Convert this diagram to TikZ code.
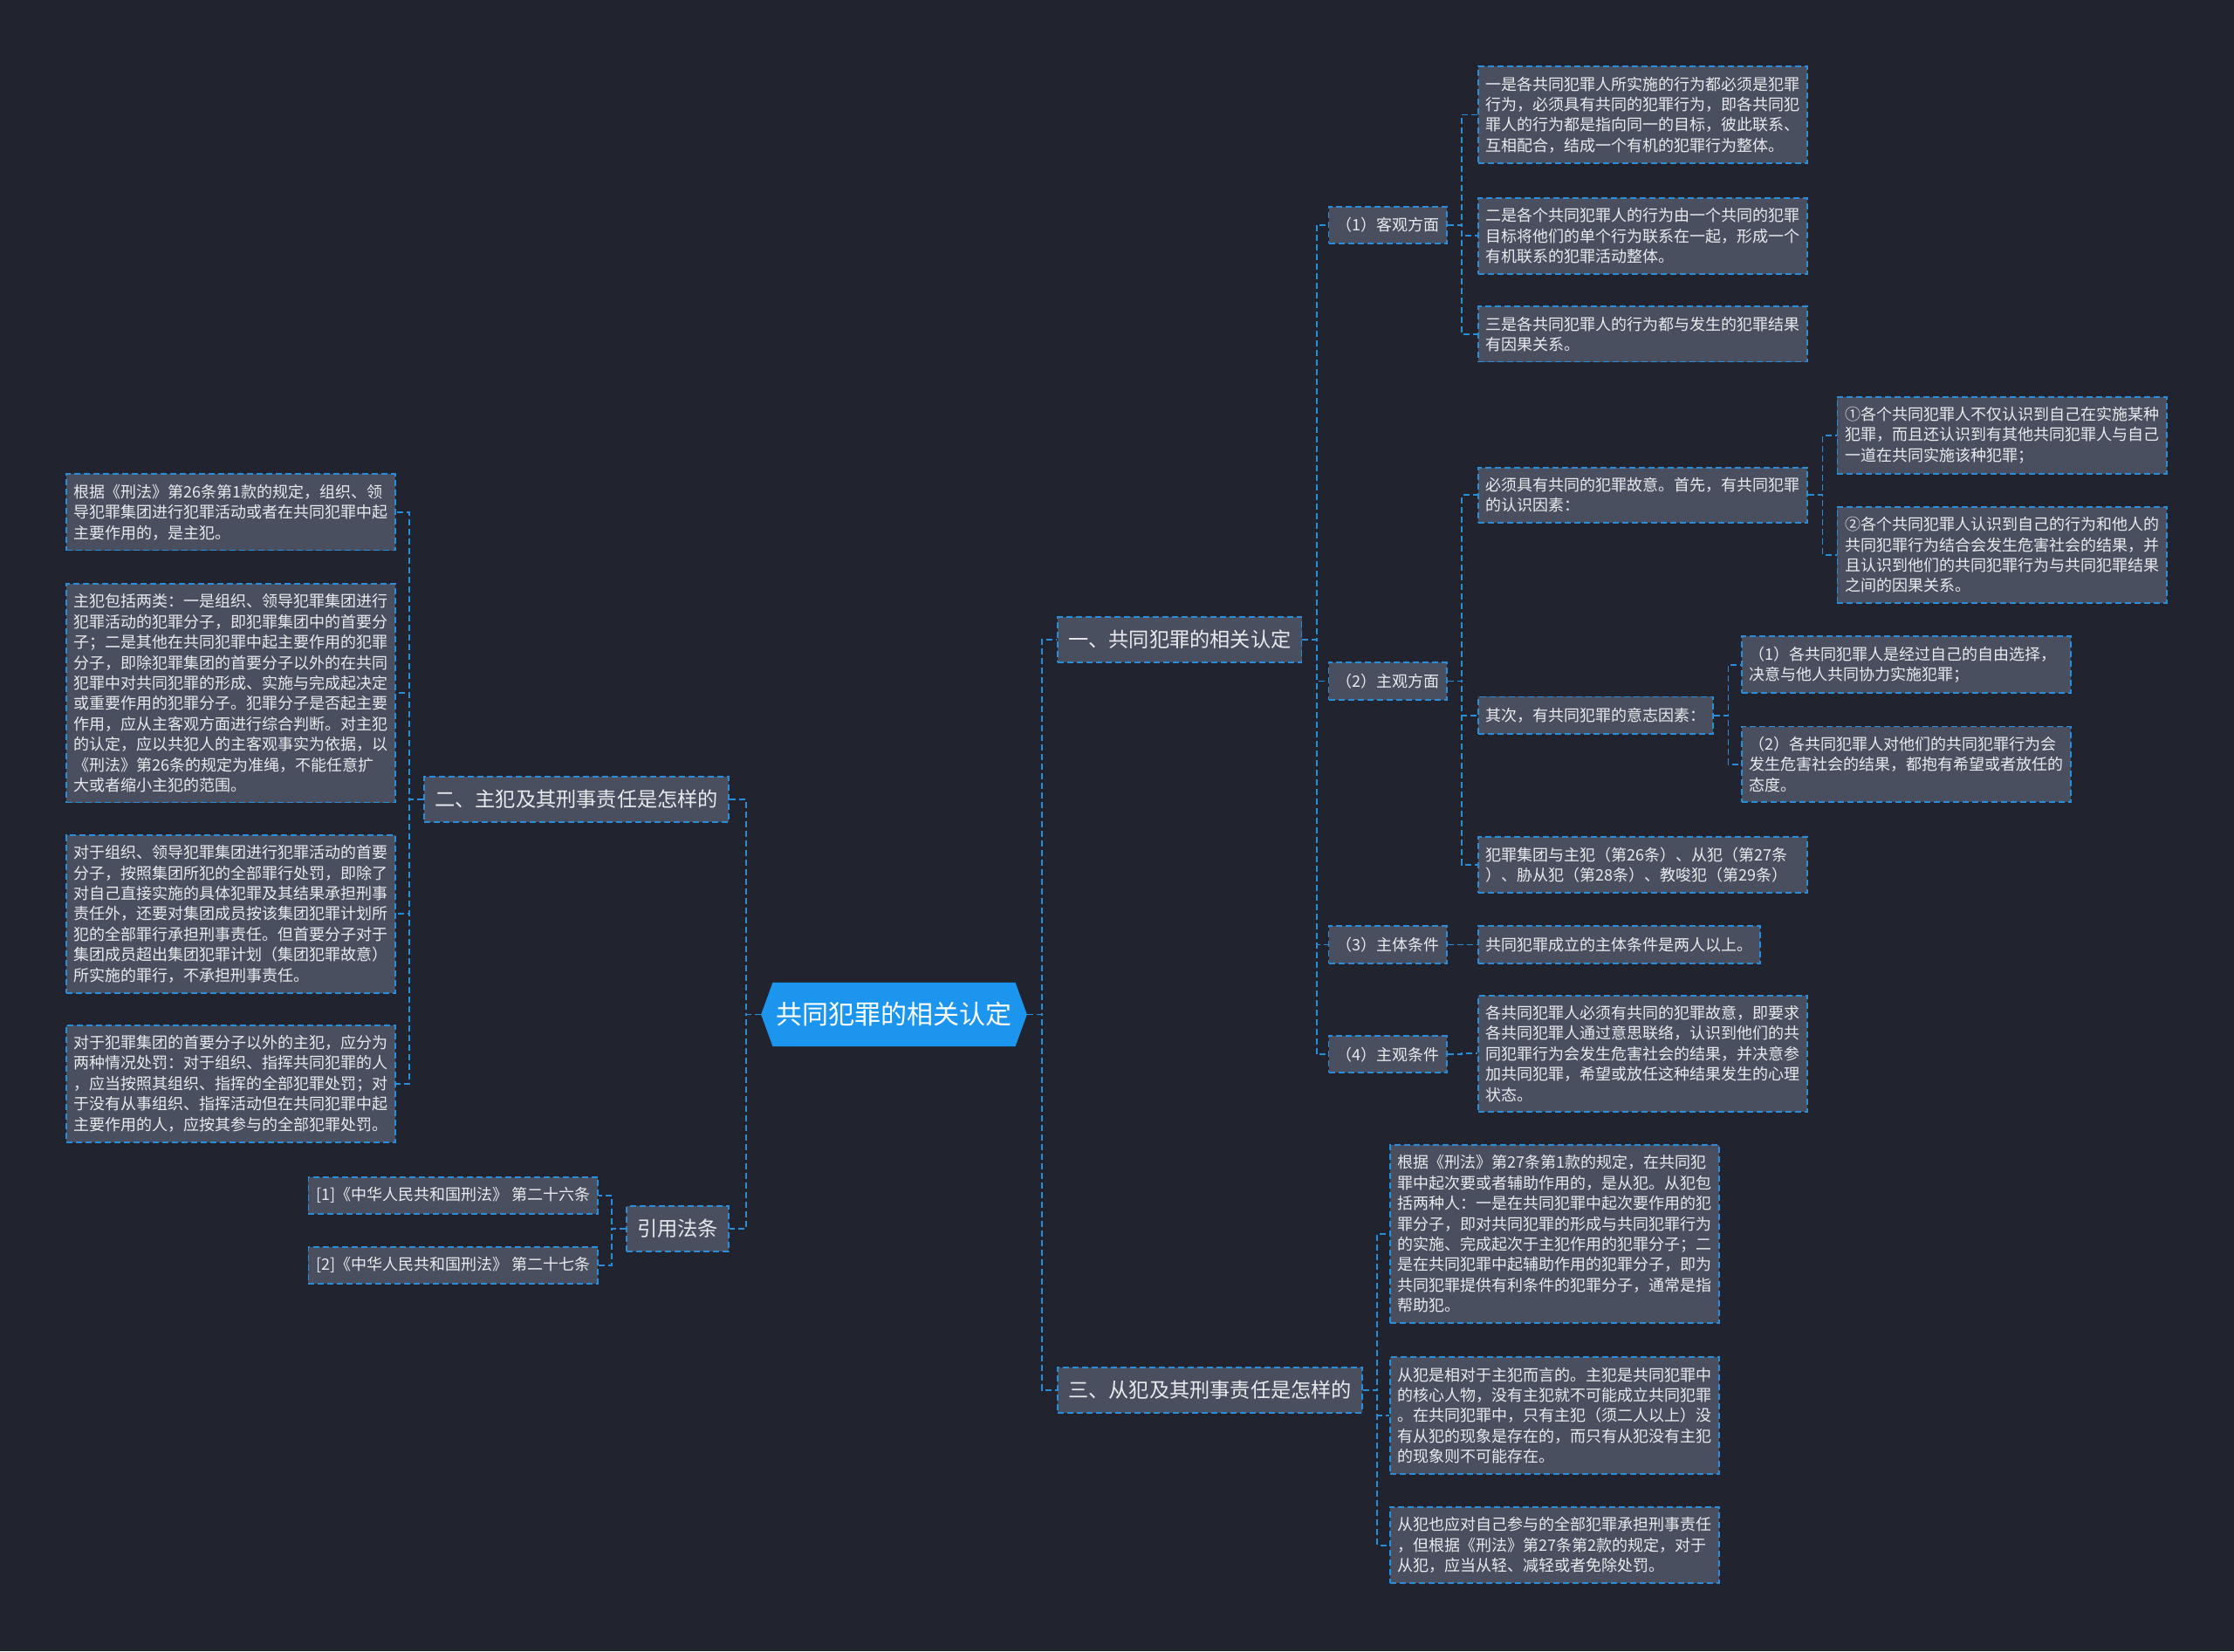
\documentclass[tikz,border=0pt]{standalone}
\usepackage{fontspec}
\usetikzlibrary{shapes.symbols}
\newfontfamily\cjk{Noto Sans CJK SC}
\definecolor{MapBg}{RGB}{33, 36, 47}
\definecolor{MapBox}{RGB}{73, 79, 94}
\definecolor{MapBlue}{RGB}{41, 141, 218}
\definecolor{MapRoot}{RGB}{27, 149, 238}
\definecolor{MapText}{RGB}{232, 234, 238}
\tikzset{
  box/.style={rectangle, draw=MapBlue, fill=MapBox, line width=0.9pt, dash pattern=on 3.5pt off 2pt,
    text=MapText, inner xsep=4.3pt, inner ysep=5.8pt, minimum height=21.2pt, anchor=west,
    font=\cjk\fontsize{9}{11.7}\selectfont},
  para/.style={box, text width=180pt, align=left},
  topic/.style={box, inner xsep=6pt, minimum height=26pt, font=\cjk\fontsize{11.6}{14}\selectfont},
  root/.style={signal, signal to=east and west, signal pointer angle=140, fill=MapRoot, text=white,
    minimum height=36.7pt, inner xsep=2pt, font=\cjk\fontsize{15}{18}\selectfont},
  link/.style={draw=MapBlue, line width=0.9pt, dash pattern=on 3.5pt off 2pt},
  rlink/.style={link, to path={-- ++(10,0) |- (\tikztotarget)}},
  llink/.style={link, to path={-- ++(-10,0) |- (\tikztotarget)}},
}
\begin{document}
\begin{tikzpicture}[x=0.8163pt, y=-0.8163pt]
  \fill[MapBg] (0,0) rectangle (1568,1159);
  \node[root] (root) at (627.5,712) {共同犯罪的相关认定};
  \node[topic] (one) at (742,449) {一、共同犯罪的相关认定};
  \node[topic] (three) at (742,975.5) {三、从犯及其刑事责任是怎样的};
  \node[topic, anchor=east] (two) at (512,561) {二、主犯及其刑事责任是怎样的};
  \node[topic, anchor=east] (cite) at (512,862.5) {引用法条};

  \node[box] (obj) at (932,158) {（1）客观方面};
  \node[box] (subj) at (932,478) {（2）主观方面};
  \node[box] (cond3) at (932,663) {（3）主体条件};
  \node[box] (cond4) at (932,740) {（4）主观条件};

  \node[para] (obj1) at (1037,80.5) {一是各共同犯罪人所实施的行为都必须是犯罪\\行为，必须具有共同的犯罪行为，即各共同犯\\罪人的行为都是指向同一的目标，彼此联系、\\互相配合，结成一个有机的犯罪行为整体。};
  \node[para] (obj2) at (1037,165.5) {二是各个共同犯罪人的行为由一个共同的犯罪\\目标将他们的单个行为联系在一起，形成一个\\有机联系的犯罪活动整体。};
  \node[para] (obj3) at (1037,234.5) {三是各共同犯罪人的行为都与发生的犯罪结果\\有因果关系。};

  \node[para] (subj1) at (1037,347.5) {必须具有共同的犯罪故意。首先，有共同犯罪\\的认识因素：};
  \node[para] (subj1a) at (1289,305.5) {①各个共同犯罪人不仅认识到自己在实施某种\\犯罪，而且还认识到有其他共同犯罪人与自己\\一道在共同实施该种犯罪；};
  \node[para] (subj1b) at (1289,389.5) {②各个共同犯罪人认识到自己的行为和他人的\\共同犯罪行为结合会发生危害社会的结果，并\\且认识到他们的共同犯罪行为与共同犯罪结果\\之间的因果关系。};
  \node[box] (subj2) at (1037,502) {其次，有共同犯罪的意志因素：};
  \node[para] (subj2a) at (1222,466.5) {（1）各共同犯罪人是经过自己的自由选择，\\决意与他人共同协力实施犯罪；};
  \node[para] (subj2b) at (1222,536.5) {（2）各共同犯罪人对他们的共同犯罪行为会\\发生危害社会的结果，都抱有希望或者放任的\\态度。};
  \node[para] (subj3) at (1037,607) {犯罪集团与主犯（第26条）、从犯（第27条\\）、胁从犯（第28条）、教唆犯（第29条）};

  \node[box] (cond3a) at (1037,663) {共同犯罪成立的主体条件是两人以上。};
  \node[para] (cond4a) at (1037,739.5) {各共同犯罪人必须有共同的犯罪故意，即要求\\各共同犯罪人通过意思联络，认识到他们的共\\同犯罪行为会发生危害社会的结果，并决意参\\加共同犯罪，希望或放任这种结果发生的心理\\状态。};

  \node[para] (acc1) at (975,866) {根据《刑法》第27条第1款的规定，在共同犯\\罪中起次要或者辅助作用的，是从犯。从犯包\\括两种人：一是在共同犯罪中起次要作用的犯\\罪分子，即对共同犯罪的形成与共同犯罪行为\\的实施、完成起次于主犯作用的犯罪分子；二\\是在共同犯罪中起辅助作用的犯罪分子，即为\\共同犯罪提供有利条件的犯罪分子，通常是指\\帮助犯。};
  \node[para] (acc2) at (975,993.5) {从犯是相对于主犯而言的。主犯是共同犯罪中\\的核心人物，没有主犯就不可能成立共同犯罪\\。在共同犯罪中，只有主犯（须二人以上）没\\有从犯的现象是存在的，而只有从犯没有主犯\\的现象则不可能存在。};
  \node[para] (acc3) at (975,1084.5) {从犯也应对自己参与的全部犯罪承担刑事责任\\，但根据《刑法》第27条第2款的规定，对于\\从犯，应当从轻、减轻或者免除处罚。};

  \node[para, anchor=east] (prin1) at (278,359.5) {根据《刑法》第26条第1款的规定，组织、领\\导犯罪集团进行犯罪活动或者在共同犯罪中起\\主要作用的，是主犯。};
  \node[para, anchor=east] (prin2) at (278,486.5) {主犯包括两类：一是组织、领导犯罪集团进行\\犯罪活动的犯罪分子，即犯罪集团中的首要分\\子；二是其他在共同犯罪中起主要作用的犯罪\\分子，即除犯罪集团的首要分子以外的在共同\\犯罪中对共同犯罪的形成、实施与完成起决定\\或重要作用的犯罪分子。犯罪分子是否起主要\\作用，应从主客观方面进行综合判断。对主犯\\的认定，应以共犯人的主客观事实为依据，以\\《刑法》第26条的规定为准绳，不能任意扩\\大或者缩小主犯的范围。};
  \node[para, anchor=east] (prin3) at (278,641.5) {对于组织、领导犯罪集团进行犯罪活动的首要\\分子，按照集团所犯的全部罪行处罚，即除了\\对自己直接实施的具体犯罪及其结果承担刑事\\责任外，还要对集团成员按该集团犯罪计划所\\犯的全部罪行承担刑事责任。但首要分子对于\\集团成员超出集团犯罪计划（集团犯罪故意）\\所实施的罪行，不承担刑事责任。};
  \node[para, anchor=east] (prin4) at (278,760.5) {对于犯罪集团的首要分子以外的主犯，应分为\\两种情况处罚：对于组织、指挥共同犯罪的人\\，应当按照其组织、指挥的全部犯罪处罚；对\\于没有从事组织、指挥活动但在共同犯罪中起\\主要作用的人，应按其参与的全部犯罪处罚。};

  \node[box, anchor=east] (cite1) at (420,839) {[1]《中华人民共和国刑法》 第二十六条};
  \node[box, anchor=east] (cite2) at (420,888) {[2]《中华人民共和国刑法》 第二十七条};

  \draw[rlink] (root.east) to (one.west) (root.east) to (three.west);
  \draw[llink] (root.west) to (two.east) (root.west) to (cite.east);
  \draw[rlink] (one.east) to (obj.west) (one.east) to (subj.west) (one.east) to (cond3.west) (one.east) to (cond4.west);
  \draw[rlink] (obj.east) to (obj1.west) (obj.east) to (obj2.west) (obj.east) to (obj3.west);
  \draw[rlink] (subj.east) to (subj1.west) (subj.east) to (subj2.west) (subj.east) to (subj3.west);
  \draw[rlink] (subj1.east) to (subj1a.west) (subj1.east) to (subj1b.west);
  \draw[rlink] (subj2.east) to (subj2a.west) (subj2.east) to (subj2b.west);
  \draw[rlink] (cond3.east) to (cond3a.west) (cond4.east) to (cond4a.west);
  \draw[rlink] (three.east) to (acc1.west) (three.east) to (acc2.west) (three.east) to (acc3.west);
  \draw[llink] (two.west) to (prin1.east) (two.west) to (prin2.east) (two.west) to (prin3.east) (two.west) to (prin4.east);
  \draw[llink] (cite.west) to (cite1.east) (cite.west) to (cite2.east);
\end{tikzpicture}
\end{document}
